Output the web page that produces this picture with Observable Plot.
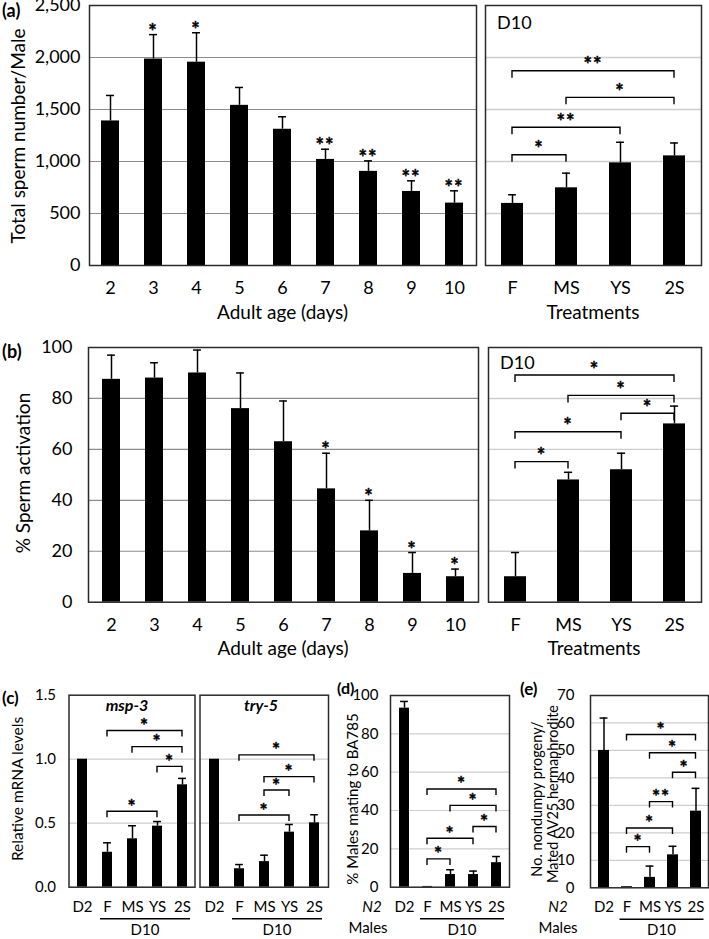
<!DOCTYPE html>
<html><head><meta charset="utf-8">
<script src="https://cdn.jsdelivr.net/npm/d3@7"></script>
<script src="https://cdn.jsdelivr.net/npm/@observablehq/plot@0.6"></script>
<style>
html,body{margin:0;padding:0;background:#fff;}
#fig{position:relative;width:709px;height:939px;font-family:Lato,sans-serif;color:#000;overflow:hidden;background:#fff;}
#fig svg{position:absolute;left:0;top:0;background:transparent !important;}
.t{position:absolute;white-space:nowrap;line-height:1;}
</style></head><body><div id="fig"></div><script>
// ---------- data ----------
const ageDays = ["2","3","4","5","6","7","8","9","10"];
const treatments = ["F","MS","YS","2S"];
const qpcrGroups = ["D2","F","MS","YS","2S"];

// (a) total sperm number per male
const spermCount    = [1390,1985,1955,1540,1310,1020,905,712,600];
const spermCountErr = [1635,2220,2238,1712,1430,1118,1006,814,718];
const spermCountSig = ["","*","*","","","**","**","**","**"];
const spermD10      = [597,747,987,1054];
const spermD10Err   = [680,888,1185,1178];
const spermD10Pairs = [["F","2S",1868,"**"],["MS","2S",1612,"*"],["F","YS",1325,"**"],["F","MS",1060,"*"]];
const countTicks = [0,500,1000,1500,2000,2500];

// (b) % sperm activation
const activation    = [87.5,88,90,76,63,44.5,28,11.3,10];
const activationErr = [97,94,99,90,79,58.5,40,19.5,13];
const activationSig = ["","","","","","*","*","*","*"];
const activationD10    = [10,48,52,70];
const activationD10Err = [19.5,51,58.5,77];
const activationD10Pairs = [["F","2S",89,"*"],["MS","2S",81,"*"],["YS","2S",74,"*"],["F","YS",66.7,"*"],["F","MS",55,"*"]];
const pctTicks = [0,20,40,60,80,100];

// (c) relative mRNA levels
const msp3    = [1.0,0.273,0.378,0.477,0.8];
const msp3Err = [null,0.347,0.48,0.513,0.85];
const msp3Pairs = [["F","2S",1.22,"*"],["MS","2S",1.094,"*"],["YS","2S",0.94,"*"],["F","YS",0.59,"*"]];
const try5    = [1.0,0.144,0.2,0.43,0.503];
const try5Err = [null,0.177,0.25,0.49,0.566];
const try5Pairs = [["F","2S",1.03,"*"],["MS","2S",0.86,"*"],["MS","YS",0.755,"*"],["F","YS",0.56,"*"]];
const mrnaTicks = [0,0.5,1.0,1.5];

// (d) % males mating to BA785
const mating    = [93.4,0.4,6.6,6.6,12.8];
const matingErr = [96.9,null,9.1,8.4,16];
const matingPairs = [["F","2S",51,"*"],["MS","2S",42.4,"*"],["YS","2S",31.4,"*"],["F","YS",25.3,"*"],["F","MS",14.5,"*"]];

// (e) nondumpy progeny per mated hermaphrodite
const progeny    = [50,0.4,3.8,12,27.9];
const progenyErr = [61.8,null,7.9,15.1,36.2];
const progenyPairs = [["F","2S",55.6,"*"],["MS","2S",49,"*"],["YS","2S",41.9,"*"],["MS","YS",31.2,"**"],["F","YS",21.6,"*"],["F","MS",14.8,"*"]];
const progenyTicks = [0,10,20,30,40,50,60,70];

// ---------- drawing ----------
const W = 709, H = 939;
const fig = document.getElementById("fig");

function annotations(p, rows) {
  return (index, scales) => {
    const x = scales.x, y = scales.y, h = x.bandwidth() / 2;
    const g = d3.create("svg:g");
    const fs = p.starFs;
    const star = (s, cx, cy) => g.append("text")
      .attr("x", cx).attr("y", cy + 0.58 * fs)
      .attr("text-anchor", "middle").attr("font-family", "Lato, sans-serif")
      .attr("font-weight", "bold").attr("font-size", fs).attr("letter-spacing", 1)
      .attr("fill", "#000").attr("stroke", "#000").attr("stroke-width", 0.4).text(s);
    for (const d of rows) if (d.s) star(d.s, x(d.c) + h, y(d.e) - p.barStarGap);
    for (const [a, b, v, s] of (p.pairs || [])) {
      const xa = x(a) + h, xb = x(b) + h, yy = y(v);
      g.append("path").attr("d", `M${xa},${yy + p.brTick}V${yy}H${xb}V${yy + p.brTick}`)
        .attr("fill", "none").attr("stroke", "#000").attr("stroke-width", 1.4);
      star(s, (xa + xb) / 2, yy - p.brStarGap);
    }
    if (p.under) {
      const xa = x("F") + h - 7, xb = x("2S") + h + 8, yy = p.y1 + 32;
      g.append("line").attr("x1", xa).attr("x2", xb).attr("y1", yy).attr("y2", yy)
        .attr("stroke", "#000").attr("stroke-width", 1.4);
      g.append("text").attr("x", (xa + xb) / 2).attr("y", p.y1 + 48)
        .attr("text-anchor", "middle").attr("font-family", "Lato, sans-serif")
        .attr("font-size", p.fs).attr("fill", "#000").text("D10");
    }
    return g.node();
  };
}

function panel(p) {
  const rows = p.cats.map((c, i) => ({c, v: p.vals[i], e: p.errs[i], s: p.sig ? p.sig[i] : ""}));
  const n = p.cats.length, pi = p.pad, po = p.pad / 2;
  const step = (p.x1 - p.x0) / (n - pi + 2 * po);
  const bw = step * (1 - pi);
  const inset = (bw - p.capW) / 2;
  const errRows = rows.filter(d => d.e != null);
  const svg = Plot.plot({
    width: W, height: H,
    marginLeft: p.x0, marginRight: W - p.x1, marginTop: p.y0, marginBottom: H - p.y1,
    style: {fontFamily: "Lato, sans-serif", fontSize: p.fs + "px", background: "transparent", color: "#000"},
    x: {type: "band", domain: p.cats, paddingInner: pi, paddingOuter: po, tickSize: 0, tickPadding: p.xPad, label: null},
    y: p.showY
      ? {domain: p.domain, ticks: p.ticks, tickFormat: p.fmt, tickSize: 0, tickPadding: p.yPad, label: null}
      : {domain: p.domain, axis: null},
    marks: [
      Plot.ruleY(p.grid, {stroke: p.gridColor, strokeWidth: p.gridWidth}),
      Plot.barY(rows, {x: "c", y: "v", fill: "#000"}),
      Plot.ruleX(errRows, {x: "c", y1: "v", y2: "e", stroke: "#000", strokeWidth: 1.5}),
      Plot.tickY(errRows, {x: "c", y: "e", stroke: "#000", strokeWidth: 1.5, insetLeft: inset, insetRight: inset}),
      Plot.frame({stroke: "#2b2b2b", strokeWidth: 1.5}),
      annotations(p, rows)
    ]
  });
  fig.appendChild(svg);
}

function txt(s, cx, cy, o = {}) {
  const d = document.createElement("div");
  d.className = "t";
  d.textContent = s;
  d.style.left = cx + "px";
  d.style.top = cy + "px";
  d.style.fontSize = (o.fs || 18) + "px";
  if (o.bold) d.style.fontWeight = "bold";
  if (o.italic) d.style.fontStyle = "italic";
  const tx = o.start ? "0" : "-50%";
  d.style.transform = `translate(${tx},-50%)` + (o.rot ? " rotate(-90deg)" : "");
  fig.appendChild(d);
}

const big = {fs: 18, starFs: 20, capW: 8, xPad: 16, brTick: 7, barStarGap: 7, brStarGap: 10};
const small = {fs: 15, starFs: 19, capW: 8, xPad: 14, brTick: 6, barStarGap: 7, brStarGap: 9.5, under: true};
const darkGrid = "#8c8c8c", lightGrid = "#cdcdcd";

// (a)
panel({...big, x0: 89, x1: 476, y0: 5, y1: 265, cats: ageDays, vals: spermCount, errs: spermCountErr, sig: spermCountSig,
  domain: [0, 2500], ticks: countTicks, fmt: d3.format(","), grid: countTicks.slice(1, -1), gridColor: darkGrid, gridWidth: 1.2,
  showY: true, yPad: 9, pad: 0.58});
panel({...big, x0: 485, x1: 701, y0: 5, y1: 265, cats: treatments, vals: spermD10, errs: spermD10Err, pairs: spermD10Pairs,
  domain: [0, 2500], grid: countTicks.slice(1, -1), gridColor: lightGrid, gridWidth: 1.4, showY: false, pad: 0.59});
// (b)
panel({...big, x0: 88, x1: 478, y0: 347, y1: 601.7, cats: ageDays, vals: activation, errs: activationErr, sig: activationSig,
  domain: [0, 100], ticks: pctTicks, fmt: d3.format("d"), grid: pctTicks.slice(1, -1), gridColor: darkGrid, gridWidth: 1.2,
  showY: true, yPad: 16, pad: 0.58});
panel({...big, x0: 488, x1: 701, y0: 347, y1: 601.7, cats: treatments, vals: activationD10, errs: activationD10Err, pairs: activationD10Pairs,
  domain: [0, 100], grid: pctTicks.slice(1, -1), gridColor: lightGrid, gridWidth: 1.4, showY: false, pad: 0.59});
// (c)
panel({...small, x0: 68.5, x1: 194.5, y0: 694.7, y1: 886.7, cats: qpcrGroups, vals: msp3, errs: msp3Err, pairs: msp3Pairs,
  domain: [0, 1.5], ticks: mrnaTicks, fmt: d3.format(".1f"), grid: [0.5, 1.0], gridColor: lightGrid, gridWidth: 1.2,
  showY: true, yPad: 13, pad: 0.6});
panel({...small, x0: 199.5, x1: 328, y0: 694.7, y1: 886.7, cats: qpcrGroups, vals: try5, errs: try5Err, pairs: try5Pairs,
  domain: [0, 1.5], grid: [0.5, 1.0], gridColor: lightGrid, gridWidth: 1.2, showY: false, pad: 0.6});
// (d)
panel({...small, x0: 390, x1: 509, y0: 695, y1: 886.7, cats: qpcrGroups, vals: mating, errs: matingErr, pairs: matingPairs,
  domain: [0, 100], ticks: pctTicks, fmt: d3.format("d"), grid: pctTicks.slice(1, -1), gridColor: lightGrid, gridWidth: 1.2,
  showY: true, yPad: 12, pad: 0.57});
// (e)
panel({...small, x0: 590, x1: 708, y0: 695, y1: 887.3, cats: qpcrGroups, vals: progeny, errs: progenyErr, pairs: progenyPairs,
  domain: [0, 70], ticks: progenyTicks, fmt: d3.format("d"), grid: progenyTicks.slice(1, -1), gridColor: lightGrid, gridWidth: 1.2,
  showY: true, yPad: 16, pad: 0.53});

// ---------- text ----------
txt("(a)", 2, 10, {bold: true, start: true});
txt("Total sperm number/Male", 17, 136, {fs: 19, rot: true});
txt("Adult age (days)", 282.5, 311, {fs: 19});
txt("Treatments", 593, 311, {fs: 19});
txt("D10", 497, 22, {fs: 18, start: true});

txt("(b)", 2, 351, {bold: true, start: true});
txt("% Sperm activation", 22, 473, {fs: 19, rot: true});
txt("Adult age (days)", 283, 647, {fs: 19});
txt("Treatments", 594, 647, {fs: 19});
txt("D10", 500, 362, {fs: 18, start: true});

txt("(c)", 2, 697, {bold: true, start: true, fs: 17});
txt("Relative mRNA levels", 18, 789, {fs: 15.5, rot: true});
txt("msp-3", 127, 705, {fs: 16, bold: true, italic: true});
txt("try-5", 261, 705, {fs: 16, bold: true, italic: true});

txt("(d)", 337, 688, {bold: true, start: true, fs: 16});
txt("% Males mating to BA785", 352, 799, {fs: 15, rot: true});
txt("N2", 372, 906, {fs: 15, italic: true});
txt("Males", 368, 927, {fs: 15});

txt("(e)", 520, 688, {bold: true, start: true, fs: 17});
txt("No. nondumpy progeny/", 537, 799, {fs: 14.5, rot: true});
txt("Mated AV25 hermaphrodite", 553, 794, {fs: 14.5, rot: true});
txt("N2", 558, 906, {fs: 15, italic: true});
txt("Males", 558, 927, {fs: 15});
</script></body></html>
